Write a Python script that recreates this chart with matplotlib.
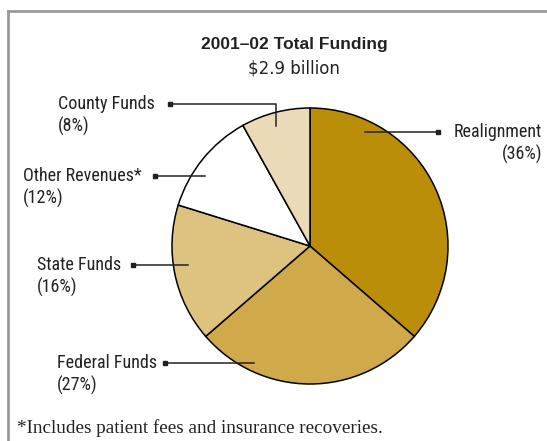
import matplotlib
matplotlib.use("Agg")
import matplotlib.pyplot as plt
from matplotlib import font_manager

labels = ["Realignment", "Federal Funds", "State Funds", "Other Revenues*", "County Funds"]
shares = [36, 27, 16, 12, 8]
colors = ["#BA8E08", "#D0AA4A", "#DEC380", "#FFFFFF", "#EBDAB7"]

W, H = 547, 441
fig = plt.figure(figsize=(W / 100, H / 100), dpi=100)
ax = fig.add_axes([0, 0, 1, 1])
ax.set_xlim(0, W)
ax.set_ylim(0, H)
ax.axis("off")

def py(y):
    # pixel row -> data y
    return H - y

# pick a narrow sans if there is one
have = set(f.name for f in font_manager.fontManager.ttflist)
narrow = "Roboto"
for cand in ["Liberation Sans Narrow", "DejaVu Sans Condensed", "Roboto Condensed", "Open Sans Condensed"]:
    if cand in have:
        narrow = cand
        break
lab_size = 13 if narrow != "Roboto" else 11.5
lab_font = {"family": [narrow, "DejaVu Sans"], "size": lab_size, "color": "#222222"}

ax.pie(shares, colors=colors, startangle=90, counterclock=False,
       center=(310, py(246)), radius=138,
       wedgeprops=dict(edgecolor="black", linewidth=1.1))
ax.set_xlim(0, W)
ax.set_ylim(0, H)
ax.set_aspect("equal")

# frame lines
ax.plot([7.5, W], [py(10.5), py(10.5)], color="#999999", lw=2, clip_on=False)
ax.plot([7.5, 7.5], [py(10.5), 0], color="#999999", lw=2, clip_on=False)

ax.text(294, py(45), "2001\u201302 Total Funding", ha="center", va="center",
        fontsize=12.5, fontweight="bold", family="Liberation Sans", color="#222222")
ax.text(294, py(68), "$2.9 billion", ha="center", va="center",
        fontsize=12, family="DejaVu Sans", color="#222222")

# leader lines: (text x, text y, align, line points)
leaders = {
    "Realignment": (542, 132, "right", [(438, 132), (365, 132)]),
    "Federal Funds": (57, 363, "left", [(165, 363), (254, 363)]),
    "State Funds": (37, 265, "left", [(133, 265), (188, 265)]),
    "Other Revenues*": (23, 176, "left", [(155, 176), (205, 176)]),
    "County Funds": (58, 104, "left", [(170, 104), (276, 104), (276, 126)]),
}

for name, pct in zip(labels, shares):
    tx, ty, ha, pts = leaders[name]
    ax.text(tx, py(ty), name, ha=ha, va="center", **lab_font)
    ax.text(tx, py(ty + 22), "(%d%%)" % pct, ha=ha, va="center", **lab_font)
    xs = [p[0] for p in pts]
    ys = [py(p[1]) for p in pts]
    ax.plot(xs, ys, color="#222222", lw=1.1)
    ax.plot(xs[0], ys[0], marker="s", ms=3.2, color="#222222")

ax.text(17, py(428), "*Includes patient fees and insurance recoveries.", ha="left", va="center",
        fontsize=13.8, family="Liberation Serif", color="#222222")

fig.savefig("out.png", dpi=100)
